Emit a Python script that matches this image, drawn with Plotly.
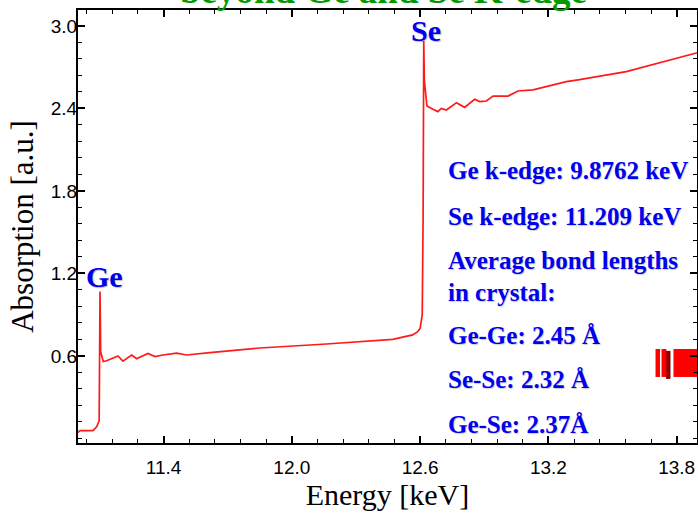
import plotly.graph_objects as go

# Absorption spectrum (energy keV, absorption a.u.)
energy = [11.000, 11.010, 11.070, 11.088, 11.099, 11.101, 11.103, 11.105, 11.106, 11.112,
          11.118, 11.134, 11.163, 11.187, 11.210, 11.251, 11.274, 11.327, 11.360, 11.397,
          11.461, 11.508, 11.617, 11.742, 11.804, 11.850, 12.162, 12.472, 12.565, 12.589,
          12.600, 12.610, 12.614, 12.617, 12.620, 12.625, 12.632, 12.660, 12.683, 12.699,
          12.723, 12.770, 12.808, 12.855, 12.879, 12.910, 12.941, 13.011, 13.058, 13.128,
          13.190, 13.252, 13.284, 13.346, 13.564, 13.883, 13.895]
absorption = [0.044, 0.057, 0.057, 0.086, 0.130, 0.500, 1.068, 0.800, 0.630, 0.600,
              0.560, 0.565, 0.585, 0.600, 0.562, 0.607, 0.580, 0.618, 0.595, 0.607,
              0.620, 0.607, 0.624, 0.644, 0.656, 0.658, 0.687, 0.721, 0.753, 0.777,
              0.800, 0.900, 1.600, 2.890, 2.600, 2.510, 2.418, 2.394, 2.377, 2.400,
              2.389, 2.442, 2.408, 2.467, 2.450, 2.454, 2.490, 2.490, 2.527, 2.535,
              2.559, 2.580, 2.595, 2.610, 2.668, 2.800, 2.805]

# stray red block at the right edge of the plot
block_x = [13.701, 13.722, None, 13.729, 13.752, None, 13.785, 13.896]
block_y = [0.549, 0.549, None, 0.549, 0.549, None, 0.549, 0.549]
block_shadow_x = [13.722, 13.727, None, 13.750, 13.771]
block_shadow_y = [0.535, 0.535, None, 0.535, 0.535]

x_ticks = [11.4, 12.0, 12.6, 13.2, 13.8]
y_ticks = [0.6, 1.2, 1.8, 2.4, 3.0]

title_text = "beyond Ge and Se K-edge"
info_lines = ["Ge k-edge: 9.8762 keV", "Se k-edge: 11.209 keV", "Average bond lengths",
              "in crystal:", "Ge-Ge: 2.45 Å", "Se-Se: 2.32 Å", "Ge-Se: 2.37Å"]
info_y = [0.630, 0.522, 0.4226, 0.3487, 0.2494, 0.1455, 0.0416]

BLUE = "#0000EE"
serif = "Liberation Serif, Times New Roman, serif"
sans = "Liberation Sans, Arial, sans-serif"

fig = go.Figure()
fig.add_trace(go.Scatter(x=block_shadow_x, y=block_shadow_y, mode="lines",
                         line=dict(color="#8B0000", width=28), hoverinfo="skip",
                         showlegend=False))
fig.add_trace(go.Scatter(x=block_x, y=block_y, mode="lines",
                         line=dict(color="#FF0000", width=28), hoverinfo="skip",
                         showlegend=False))
fig.add_trace(go.Scatter(x=energy, y=absorption, mode="lines",
                         line=dict(color="#FF1A1A", width=1.7), showlegend=False))

axis_common = dict(showline=True, linecolor="black", linewidth=2, mirror="ticks",
                   ticks="inside", ticklen=7, tickwidth=1.5, tickcolor="black",
                   showgrid=False, zeroline=False, automargin=False,
                   tickfont=dict(family=sans, size=19, color="black"),
                   minor=dict(ticks="inside", ticklen=4, tickwidth=1, tickcolor="black",
                              dtick=0.12, tick0=0, showgrid=False))

fig.update_xaxes(range=[11.0, 13.895], tickvals=x_ticks, ticktext=[f"{v:.1f}" for v in x_ticks],
                 title=dict(text="Energy [keV]", font=dict(family=serif, size=30, color="black"),
                            standoff=6),
                 ticklabelstandoff=6, **axis_common)
fig.update_yaxes(range=[-0.033, 3.116], tickvals=y_ticks, ticktext=[f"{v:.1f}" for v in y_ticks],
                 title=dict(text="Absorption [a.u.]", font=dict(family=serif, size=31, color="black"),
                            standoff=8),
                 ticklabelstandoff=-5, **axis_common)

annotations = [
    dict(text=title_text, xref="paper", yref="paper", x=0.4935, y=0.994, xanchor="center",
         yanchor="bottom", showarrow=False,
         font=dict(family=serif, size=37, color="#009A00", weight="bold")),
    dict(text="Se", xref="x", yref="y", x=12.627, y=2.97, xanchor="center", yanchor="middle",
         showarrow=False, font=dict(family=serif, size=30, color=BLUE, weight="bold",
                                    shadow="1px 1px 1px rgba(0,0,0,0.25)")),
    dict(text="Ge", xref="x", yref="y", x=11.126, y=1.175, xanchor="center", yanchor="middle",
         showarrow=False, font=dict(family=serif, size=30, color=BLUE, weight="bold",
                                    shadow="1px 1px 1px rgba(0,0,0,0.25)")),
]
for t, yy in zip(info_lines, info_y):
    annotations.append(dict(text=t, xref="paper", yref="paper", x=0.595, y=yy, xanchor="left",
                            yanchor="middle", showarrow=False,
                            font=dict(family=serif, size=25, color=BLUE, weight="bold",
                                      shadow="1px 1px 1px rgba(0,0,0,0.2)")))

fig.update_layout(width=698, height=513, margin=dict(l=78, r=1, t=10, b=70),
                  paper_bgcolor="white", plot_bgcolor="white", annotations=annotations,
                  showlegend=False)

fig.write_html("out.html", config={"displayModeBar": False},
               post_script="document.body.style.margin='0px';document.body.style.padding='0px';")
